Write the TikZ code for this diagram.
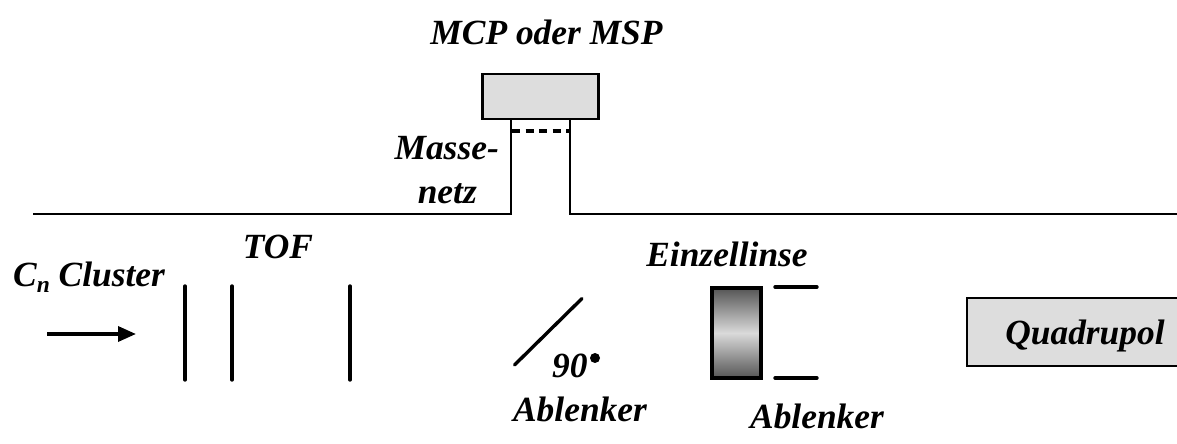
\documentclass[tikz,border=0pt]{standalone}
\usepackage{fontspec}
\setmainfont{Liberation Serif}
\usetikzlibrary{arrows.meta}
\definecolor{boxgray}{HTML}{DDDDDD}
\definecolor{lensdark}{HTML}{555555}
\definecolor{lenslight}{HTML}{DADADA}
\tikzset{
  x=1bp,y=-1bp,
  lbl/.style={font=\fontsize{35.4bp}{38bp}\selectfont\bfseries\itshape,inner sep=0pt,text=black},
  plate/.style={line width=3.4bp,black,line cap=round},
  wall/.style={line width=2.5bp,black},
  boxg/.style={draw=black,fill=boxgray,line width=2.2bp,inner sep=0pt}
}
\begin{document}
\begin{tikzpicture}
\useasboundingbox (0,0) rectangle (1177,444);
\node[lbl,anchor=base] (mcp) at (546.5,45) {MCP oder MSP};
\node[boxg,minimum width=116bp,minimum height=45bp] (det) at (540.5,96.5) {};
\coordinate (wl0) at (511,119);
\coordinate (wr0) at (570,119);
\coordinate (wl1) at (511,214);
\coordinate (wr1) at (570,214);
\coordinate (hl) at (33,214);
\coordinate (hr) at (1177,214);
\coordinate (gl) at (512,131);
\coordinate (gr) at (569,131);
\draw[wall] (hl) -- (wl1) -- (wl0);
\draw[wall] (hr) -- (wr1) -- (wr0);
\draw[line width=3.2bp,dash pattern=on 8bp off 5.5bp] (gl) -- (gr);
\node[lbl,anchor=base east] (masse) at (499,160) {Masse-};
\node[lbl,anchor=base east] (netz) at (477,204) {netz};
\node[lbl,anchor=base west] (cn) at (13,287) {C\raisebox{-6bp}{\fontsize{23.5bp}{24bp}\selectfont n} Cluster};
\node[lbl,anchor=base] (tof) at (278,259) {TOF};
\coordinate (a0) at (47,334);
\coordinate (a1) at (136,334);
\draw[line width=3.4bp,-{Triangle[length=18bp,width=15bp]}] (a0) -- (a1);
\foreach \n/\x in {p1/185,p2/232,p3/350}{
  \coordinate (\n t) at (\x,286);
  \coordinate (\n b) at (\x,380);
  \draw[plate] (\n t) -- (\n b);
}
\coordinate (d0) at (514.5,365);
\coordinate (d1) at (582,298.5);
\draw[plate] (d0) -- (d1);
\node[lbl,anchor=base west] (deg) at (552,377.5) {90};
\fill (595,358) circle (5bp);
\node[lbl,anchor=base] (abl1) at (580,422) {Ablenker};
\node[lbl,anchor=base] (einz) at (727,267) {Einzellinse};
\node (lens) at (736.5,333) [minimum width=49bp,minimum height=90bp,inner sep=0pt,draw=black,line width=4.2bp,top color=lensdark,bottom color=lensdark,middle color=lenslight] {};
\coordinate (u0) at (775,287);
\coordinate (u1) at (817,287);
\coordinate (v0) at (775,378);
\coordinate (v1) at (817,378);
\draw[plate] (u0) -- (u1);
\draw[plate] (v0) -- (v1);
\node[lbl,anchor=base] (abl2) at (817,429) {Ablenker};
\fill[boxgray] (967,298) rectangle (1177,366);
\draw[line width=2.2bp] (1177,298) -- (967,298) -- (967,366) -- (1177,366);
\node[lbl,anchor=base] (quad) at (1085,345) {Quadrupol};
\end{tikzpicture}
\end{document}
